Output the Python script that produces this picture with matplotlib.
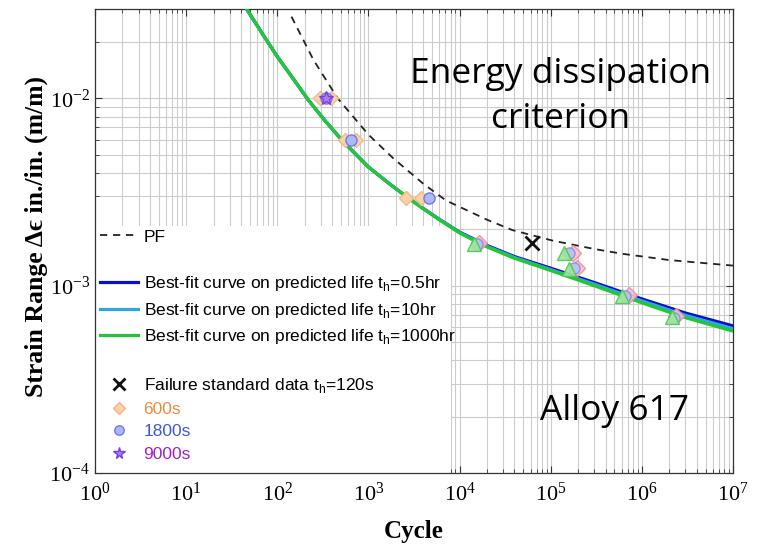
import matplotlib
matplotlib.use('Agg')
import matplotlib.pyplot as plt
from matplotlib.lines import Line2D
from matplotlib.patches import Rectangle
from matplotlib.ticker import NullFormatter

plt.rcParams['font.family'] = ['Liberation Serif', 'DejaVu Serif']

# best-fit curves
fit_n = [45, 70, 100, 150, 217, 330, 525, 1000, 1700, 2580, 4000, 6000, 1e4, 2e4, 4e4, 1e5, 3e5, 1e6, 3e6, 1e7]
fit_05hr = [3.05e-2, 2.18e-2, 1.67e-2, 1.27e-2, 9.85e-3, 7.65e-3, 5.9e-3, 4.3e-3, 3.5e-3, 3.0e-3, 2.58e-3,
            2.26e-3, 1.93e-3, 1.64e-3, 1.43e-3, 1.24e-3, 1.04e-3, 8.5e-4, 7.15e-4, 6.1e-4]
fit_10hr = [3.05e-2, 2.18e-2, 1.67e-2, 1.27e-2, 9.85e-3, 7.65e-3, 5.9e-3, 4.3e-3, 3.5e-3, 3.0e-3, 2.58e-3,
            2.255e-3, 1.92e-3, 1.625e-3, 1.415e-3, 1.22e-3, 1.02e-3, 8.3e-4, 6.95e-4, 5.9e-4]
fit_1000hr = [3.05e-2, 2.18e-2, 1.67e-2, 1.27e-2, 9.85e-3, 7.65e-3, 5.9e-3, 4.3e-3, 3.5e-3, 3.0e-3, 2.575e-3,
              2.25e-3, 1.91e-3, 1.61e-3, 1.4e-3, 1.205e-3, 1.0e-3, 8.1e-4, 6.75e-4, 5.72e-4]

# PF curve
pf_n = [143, 250, 460, 1000, 1860, 4000, 7100, 2e4, 3.8e4, 1.05e5, 3e5, 6.1e5, 2e6, 1e7]
pf_e = [2.73e-2, 1.6e-2, 1.0e-2, 6.4e-3, 4.8e-3, 3.5e-3, 2.85e-3, 2.25e-3, 1.98e-3, 1.74e-3, 1.57e-3, 1.48e-3,
        1.37e-3, 1.28e-3]

# test points
fail_n = [6.3e4]
fail_e = [1.69e-3]
d600_n = [291, 391, 547, 735, 2600, 3800]
d600_e = [1.0e-2, 1.0e-2, 6.0e-3, 6.0e-3, 2.95e-3, 2.95e-3]
c1800_n = [345, 648, 4590]
c1800_e = [1.0e-2, 6.0e-3, 2.95e-3]
s9000_n = [345]
s9000_e = [1.0e-2]

# other hold times (not in legend)
tri_n = [1.45e4, 1.41e5, 1.6e5, 6.1e5, 2.16e6]
tri_e = [1.67e-3, 1.5e-3, 1.23e-3, 8.85e-4, 6.8e-4]
pink_n = [1.65e4, 1.74e5, 1.96e5, 7.2e5, 2.35e6]
pink_e = [1.68e-3, 1.5e-3, 1.25e-3, 8.95e-4, 6.85e-4]
circ_n = [1.55e4, 1.6e5, 1.8e5, 6.6e5, 2.25e6]
circ_e = [1.66e-3, 1.5e-3, 1.24e-3, 8.8e-4, 6.7e-4]

x_ticks = [1e0, 1e1, 1e2, 1e3, 1e4, 1e5, 1e6, 1e7]
y_ticks = [1e-4, 1e-3, 1e-2]

fig = plt.figure(figsize=(7.67, 5.45), dpi=100)
ax = fig.add_axes([0.1239, 0.1321, 0.8318, 0.8514])
ax.set_xscale('log')
ax.set_yscale('log')
ax.set_xticks(x_ticks)
ax.set_yticks(y_ticks)
ax.set_xlim(1, 1e7)
ax.set_ylim(1e-4, 3e-2)
ax.set_axisbelow(True)
ax.grid(True, which='both', color='#cccccc', lw=0.8)

# white block behind legend
ax.add_patch(Rectangle((0, 0), 0.558, 0.532, transform=ax.transAxes, facecolor='white',
                       edgecolor='none', zorder=1))

pf, = ax.plot(pf_n, pf_e, color='#222222', ls=(0, (4, 3.2)), lw=1.3, zorder=2, label='PF')
l05, = ax.plot(fit_n, fit_05hr, color='#0a10c8', lw=2.3, zorder=3,
               label=r'Best-fit curve on predicted life t$_\mathregular{h}$=0.5hr')
l10, = ax.plot(fit_n, fit_10hr, color='#2fa4e6', lw=2.3, zorder=3,
               label=r'Best-fit curve on predicted life t$_\mathregular{h}$=10hr')
l1000, = ax.plot(fit_n, fit_1000hr, color='#22c832', lw=2.3, zorder=3,
                 label=r'Best-fit curve on predicted life t$_\mathregular{h}$=1000hr')

ax.plot(pink_n, pink_e, ls='none', marker='D', ms=8, mfc='#f9c6cc', mec='#f08a9a', mew=1, alpha=0.9, zorder=4)
ax.plot(circ_n, circ_e, ls='none', marker='o', ms=8, mfc='#b8c0f5', mec='#8090e8', mew=1, alpha=0.9, zorder=4)
ax.plot(tri_n, tri_e, ls='none', marker='^', ms=10.5, mfc='#9ee6a0', mec='#4cc94c', mew=1, alpha=0.9, zorder=4)

fx, = ax.plot(fail_n, fail_e, ls='none', marker='x', ms=10, mew=2, color='#111111', zorder=5,
              label=r'Failure standard data t$_\mathregular{h}$=120s')
d6, = ax.plot(d600_n, d600_e, ls='none', marker='D', ms=7.5, mfc='#fad2aa', mec='#f5b888', mew=1, zorder=4,
              label='600s')
c18, = ax.plot(c1800_n, c1800_e, ls='none', marker='o', ms=8, mfc='#afb8f5', mec='#6c7ce8', mew=1, zorder=5,
               label='1800s')
s90, = ax.plot(s9000_n, s9000_e, ls='none', marker='*', ms=10, mfc='#b07cf0', mec='#7b3fd8', mew=1, zorder=6,
               label='9000s')

blank = Line2D([], [], ls='none')
handles = [pf, blank, l05, l10, l1000, blank, fx, d6, c18, s90]
labels = [h.get_label() if h is not blank else ' ' for h in handles]
leg = ax.legend(handles, labels, loc='upper left', bbox_to_anchor=(0.008, 0.525), frameon=False,
                borderpad=0, borderaxespad=0, handlelength=2.2, handletextpad=0.3, labelspacing=0.42,
                markerscale=0.85, prop={'family': 'Liberation Sans', 'size': 12.5})
txt = leg.get_texts()
txt[7].set_color('#f08a3c')
txt[8].set_color('#3f57e0')
txt[9].set_color('#a020c8')

ax.tick_params(which='both', direction='in', top=True, right=True, labelsize=16, colors='#333333',
               labelcolor='black')
ax.tick_params(which='major', length=5)
ax.tick_params(which='minor', length=3)
ax.xaxis.set_minor_formatter(NullFormatter())
ax.yaxis.set_minor_formatter(NullFormatter())
ax.tick_params(axis='x', pad=7)
for s in ax.spines.values():
    s.set_color('#333333')
    s.set_linewidth(0.9)

ax.set_xlabel('Cycle', fontsize=18, fontweight='bold', va='center')
ax.set_ylabel('Strain Range \u0394\u03f5 in./in. (m/m)', fontsize=18.5, fontweight='bold', va='center')
ax.xaxis.set_label_coords(0.5, -0.125)
ax.yaxis.set_label_coords(-0.092, 0.51)

ax.text(0.730, 0.8115, 'Energy dissipation\ncriterion', transform=ax.transAxes, ha='center', va='center',
        fontsize=25.5, family='Open Sans', linespacing=1.4, zorder=6)
ax.text(0.8135, 0.134, 'Alloy 617', transform=ax.transAxes, ha='center', va='center',
        fontsize=25.5, family='Open Sans', zorder=6)

fig.savefig('out.png', dpi=100)
